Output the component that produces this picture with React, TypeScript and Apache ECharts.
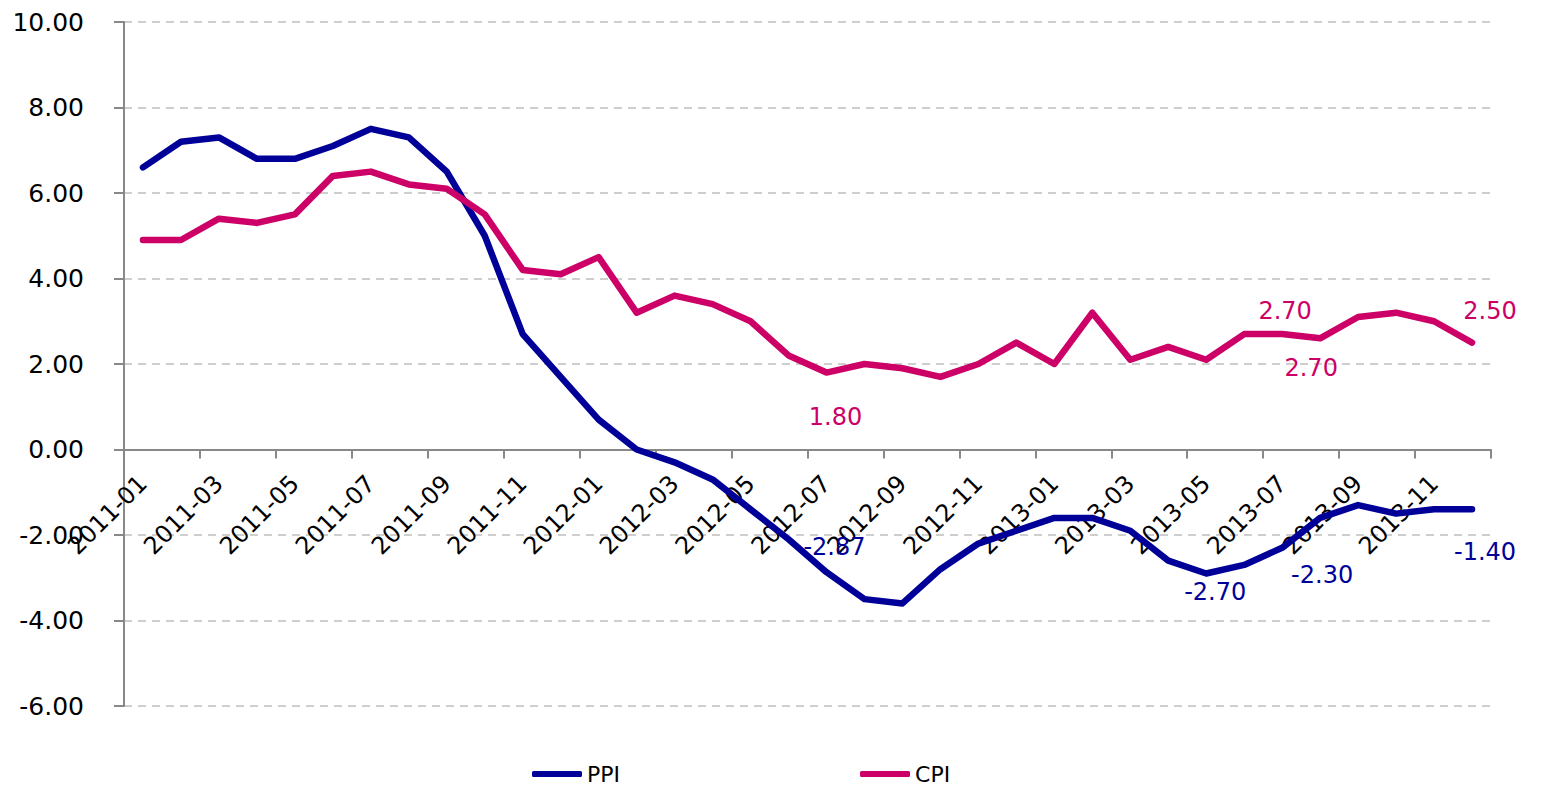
import React, { useEffect, useRef } from "react";
import * as echarts from "echarts";

const months = [
  "2011-01", "2011-02", "2011-03", "2011-04", "2011-05", "2011-06",
  "2011-07", "2011-08", "2011-09", "2011-10", "2011-11", "2011-12",
  "2012-01", "2012-02", "2012-03", "2012-04", "2012-05", "2012-06",
  "2012-07", "2012-08", "2012-09", "2012-10", "2012-11", "2012-12",
  "2013-01", "2013-02", "2013-03", "2013-04", "2013-05", "2013-06",
  "2013-07", "2013-08", "2013-09", "2013-10", "2013-11", "2013-12",
];

const ppi = [
  6.6, 7.2, 7.3, 6.8, 6.8, 7.1, 7.5, 7.3, 6.5, 5.0, 2.7, 1.7,
  0.7, 0.0, -0.3, -0.7, -1.4, -2.1, -2.87, -3.5, -3.6, -2.8, -2.2, -1.9,
  -1.6, -1.6, -1.9, -2.6, -2.9, -2.7, -2.3, -1.6, -1.3, -1.5, -1.4, -1.4,
];

const cpi = [
  4.9, 4.9, 5.4, 5.3, 5.5, 6.4, 6.5, 6.2, 6.1, 5.5, 4.2, 4.1,
  4.5, 3.2, 3.6, 3.4, 3.0, 2.2, 1.8, 2.0, 1.9, 1.7, 2.0, 2.5,
  2.0, 3.2, 2.1, 2.4, 2.1, 2.7, 2.7, 2.6, 3.1, 3.2, 3.0, 2.5,
];

const yMin = -6;
const yMax = 10;
const yStep = 2;

// indices of points whose value is labelled, with label offsets (style)
const ppiLabelIdx = [18, 29, 30, 35];
const ppiLabelOffsets = [[8, -25], [-29, 27], [40, 27], [13, 43]];
const cpiLabelIdx = [18, 30, 29, 35];
const cpiLabelOffsets = [[9, 44], [3, -23], [67, 34], [18, -32]];

const PPI_COLOR = "#000099";
const CPI_COLOR = "#CC0066";
const FONT = "DejaVu Sans, Verdana, sans-serif";

const GRID_TOP = 22;
const GRID_BOTTOM = 79;
const CHART_H = 785;

function buildData(values: number[], idx: number[], offs: number[][], color: string) {
  return values.map((v, i) => {
    const k = idx.indexOf(i);
    if (k < 0) return v;
    return {
      value: v,
      label: {
        show: true,
        position: "inside",
        offset: offs[k],
        color,
        fontSize: 24,
        fontFamily: FONT,
        formatter: (p: any) => Number(p.value).toFixed(2),
      },
    };
  });
}

export default function App() {
  const ref = useRef<HTMLDivElement>(null);
  useEffect(() => {
    if (!ref.current) return;
    const chart = echarts.init(ref.current, undefined, { renderer: "svg" });
    const plotH = CHART_H - GRID_TOP - GRID_BOTTOM;
    // distance from the grid bottom up to the zero line
    const zeroLift = (plotH * (0 - yMin)) / (yMax - yMin);
    chart.setOption({
      animation: false,
      backgroundColor: "#ffffff",
      grid: { left: 124, right: 77, top: GRID_TOP, bottom: GRID_BOTTOM, containLabel: false },
      legend: {
        left: 527,
        top: 758,
        itemWidth: 50,
        itemHeight: 6,
        itemGap: 240,
        icon: "roundRect",
        textStyle: { fontSize: 22, fontFamily: FONT, color: "#000" },
        data: ["PPI", "CPI"],
      },
      xAxis: {
        type: "category",
        data: months,
        boundaryGap: true,
        position: "bottom",
        offset: -zeroLift,
        axisLine: { onZero: false, lineStyle: { color: "#888888", width: 2 } },
        axisTick: { show: true, interval: 1, length: 9, lineStyle: { color: "#888888", width: 2 } },
        axisLabel: {
          interval: 1,
          rotate: 45,
          margin: 30,
          fontSize: 24,
          fontFamily: FONT,
          color: "#000",
        },
        splitLine: { show: false },
      },
      yAxis: {
        type: "value",
        min: yMin,
        max: yMax,
        interval: yStep,
        axisLine: { show: true, lineStyle: { color: "#888888", width: 2 } },
        axisTick: { show: true, length: 10, lineStyle: { color: "#888888", width: 2 } },
        axisLabel: {
          margin: 40,
          fontSize: 25,
          fontFamily: FONT,
          color: "#000",
          formatter: (v: number) => v.toFixed(2),
        },
        splitLine: {
          show: true,
          lineStyle: { color: "#BFBFBF", type: [8, 6], width: 1.5 },
        },
      },
      series: [
        {
          name: "PPI",
          type: "line",
          data: buildData(ppi, ppiLabelIdx, ppiLabelOffsets, PPI_COLOR),
          symbol: "circle",
          symbolSize: 1,
          showSymbol: true,
          showAllSymbol: true,
          lineStyle: { color: PPI_COLOR, width: 6.5, cap: "round", join: "round" },
          itemStyle: { color: PPI_COLOR },
          emphasis: { disabled: true },
          z: 3,
        },
        {
          name: "CPI",
          type: "line",
          data: buildData(cpi, cpiLabelIdx, cpiLabelOffsets, CPI_COLOR),
          symbol: "circle",
          symbolSize: 1,
          showSymbol: true,
          showAllSymbol: true,
          lineStyle: { color: CPI_COLOR, width: 6.5, cap: "round", join: "round" },
          itemStyle: { color: CPI_COLOR },
          emphasis: { disabled: true },
          z: 4,
        },
      ],
    });
    return () => chart.dispose();
  }, []);
  return (
    <div
      ref={ref}
      style={{ position: "fixed", left: 0, top: 0, width: 1568, height: 785, background: "#fff" }}
    />
  );
}
